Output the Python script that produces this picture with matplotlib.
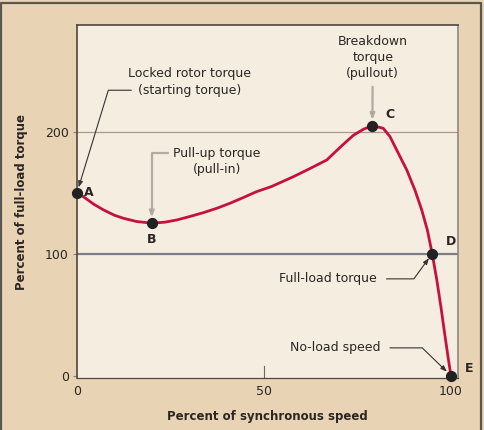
import matplotlib.pyplot as plt

# torque-speed curve (percent of synchronous speed, percent of full-load torque)
speed = [0, 1.7, 4.5, 7, 10, 12.4, 16, 20, 23.5, 26.7, 30, 33.8, 37.5, 40.9,
         44.5, 48, 52, 57.8, 62, 66.8, 71, 73.9, 76.6, 79, 81.9, 83.7, 85.5,
         88.2, 90.4, 92.2, 93.7, 95, 96.2, 97.3, 98.4, 99.3, 100]
torque = [150, 146.7, 140.5, 136, 131.5, 129, 126.3, 125, 125.8, 127.6, 130.3,
          133.6, 137.3, 141.3, 146, 150.8, 155, 163, 169.3, 176.8, 189, 197,
          202, 205, 202.8, 196, 185, 168.6, 152, 135.8, 119.4, 100, 79, 57,
          33, 14, 0]

# named points on the curve
point_names = ['A', 'B', 'C', 'D', 'E']
point_speed = [0, 20, 79, 95, 100]
point_torque = [150, 125, 205, 100, 0]

x_ticks = [0, 50, 100]
y_ticks = [0, 100, 200]

outer_bg = '#e8d4b5'
inner_bg = '#f6ede1'
curve_color = '#c4123c'
text_color = '#2b2623'

fig = plt.figure(figsize=(4.84, 4.3), dpi=100, facecolor=outer_bg)
ax = fig.add_axes([77 / 484, 52 / 430, 381 / 484, 353 / 430])
ax.set_facecolor(inner_bg)

# dark frame around the picture (open at the bottom)
fig.lines.append(plt.Line2D([0.002, 0.002, 0.994, 0.994], [-0.01, 0.992, 0.992, -0.01],
                            transform=fig.transFigure, color='#5c5650', lw=1.6))

ax.set_xlim(0, 101.9)
ax.set_ylim(-2, 287.5)

# reference lines
ax.axhline(200, color='#a89a8c', lw=0.9, zorder=1)
ax.axhline(100, color='#7f7d86', lw=1.6, zorder=1)

ax.plot(speed, torque, color=curve_color, lw=2.0, zorder=3,
        solid_capstyle='round', solid_joinstyle='round')
ax.scatter(point_speed, point_torque, s=50, color='#222222', zorder=4, clip_on=False)

# point letters
label_offsets = {'A': (5, 0), 'B': (0, -12), 'C': (9, 8), 'D': (10, 9), 'E': (10, 5)}
for name, sx, ty in zip(point_names, point_speed, point_torque):
    dx, dy = label_offsets[name]
    ax.annotate(name, (sx, ty), xytext=(dx, dy), textcoords='offset points',
                ha='center' if name == 'B' else 'left', va='center',
                fontsize=9, fontweight='bold', color=text_color, zorder=5)

dark_arrow = dict(arrowstyle='-|>,head_length=0.4,head_width=0.15', color='#333333',
                  lw=0.8, shrinkA=3, shrinkB=4)
grey_arrow = dict(arrowstyle='-|>,head_length=0.4,head_width=0.15', ec='#b3aaa1',
                  fc='#333333', lw=1.6, shrinkA=2, shrinkB=4)

fs = 9
# locked rotor torque -> A
ax.text(30.2, 248, 'Locked rotor torque', ha='center', va='center', fontsize=fs, color=text_color)
ax.annotate('(starting torque)', xy=(point_speed[0], point_torque[0]), xytext=(30.2, 234),
            ha='center', va='center', fontsize=fs, color=text_color,
            arrowprops=dict(dark_arrow, connectionstyle='angle,angleA=0,angleB=73,rad=0'))

# pull-up torque -> B
ax.annotate('Pull-up torque', xy=(point_speed[1], point_torque[1]), xytext=(37.4, 182.5),
            ha='center', va='center', fontsize=fs, color=text_color,
            arrowprops=dict(grey_arrow, connectionstyle='angle,angleA=0,angleB=90,rad=0'))
ax.text(37.4, 168.6, '(pull-in)', ha='center', va='center', fontsize=fs, color=text_color)

# breakdown torque -> C
ax.annotate('Breakdown\ntorque\n(pullout)', xy=(point_speed[2], point_torque[2]),
            xytext=(79.1, 261), ha='center', va='center', fontsize=fs, color=text_color,
            linespacing=1.3, arrowprops=dict(grey_arrow, shrinkA=3))

# full-load torque -> D
ax.annotate('Full-load torque', xy=(point_speed[3], point_torque[3]), xytext=(67.1, 79.3),
            ha='center', va='center', fontsize=fs, color=text_color,
            arrowprops=dict(dark_arrow, shrinkA=5, connectionstyle='angle,angleA=0,angleB=54,rad=0'))

# no-load speed -> E
ax.annotate('No-load speed', xy=(point_speed[4], point_torque[4]), xytext=(69.0, 22.7),
            ha='center', va='center', fontsize=fs, color=text_color,
            arrowprops=dict(dark_arrow, shrinkA=5, connectionstyle='angle,angleA=0,angleB=136,rad=0'))

# axes styling
ax.set_xticks(x_ticks)
ax.set_yticks(y_ticks)
ax.tick_params(axis='x', direction='in', length=0, pad=5, labelsize=9, labelcolor=text_color)
ax.tick_params(axis='y', direction='out', length=3, width=0.8, color='#8a8079', pad=3,
               labelsize=9, labelcolor=text_color)
ax.axvline(50, ymax=0.035, color='#6d655e', lw=0.8)

for side in ['left', 'top']:
    ax.spines[side].set_color('#4e463f')
    ax.spines[side].set_linewidth(1.2)
ax.spines['bottom'].set_color('#4e463f')
ax.spines['bottom'].set_linewidth(0.9)
ax.spines['right'].set_color('#8f8782')
ax.spines['right'].set_linewidth(1.2)

ax.set_xlabel('Percent of synchronous speed', fontsize=8.5, fontweight='bold',
              color=text_color, labelpad=9)
ax.set_ylabel('Percent of full-load torque', fontsize=8.5, fontweight='bold',
              color=text_color, labelpad=12)

fig.savefig('out.png', dpi=100, facecolor=outer_bg)
